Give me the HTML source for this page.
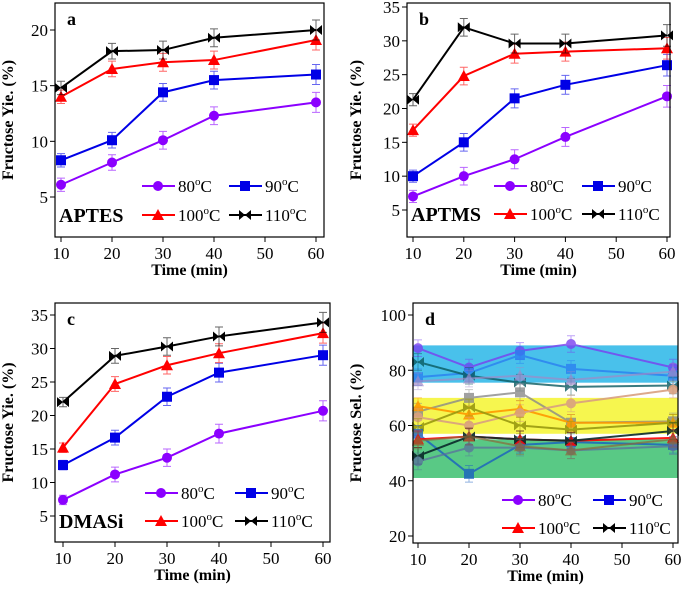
<!DOCTYPE html>
<html><head><meta charset="utf-8"><style>
body{margin:0;background:#fff}
svg{display:block;font-family:"Liberation Serif",serif}
</style></head><body>
<svg id="fig" width="685" height="595" viewBox="0 0 685 595" xmlns="http://www.w3.org/2000/svg"></svg>
<script>
const times=[10,20,30,40,60];
const xTicks=[10,20,30,40,50,60];
// panel a
const a80=[6.1,8.1,10.1,12.3,13.5], a90=[8.3,10.1,14.4,15.5,16.0], a100=[14.0,16.5,17.1,17.3,19.1], a110=[14.8,18.1,18.2,19.3,20.0];
const aErr=[0.6,0.7,0.8,0.8,0.9];
const aTicks=[5,10,15,20];
// panel b
const b80=[7.0,10.0,12.5,15.8,21.8], b90=[10.0,15.0,21.5,23.5,26.4], b100=[16.8,24.8,28.1,28.4,28.9], b110=[21.3,32.0,29.6,29.6,30.8];
const bErr=[0.9,1.3,1.4,1.4,1.6];
const bTicks=[5,10,15,20,25,30,35];
// panel c
const c80=[7.4,11.2,13.7,17.3,20.7], c90=[12.6,16.7,22.8,26.4,29.0], c100=[15.2,24.7,27.5,29.3,32.3], c110=[22.0,28.9,30.3,31.8,33.9];
const cErr=[0.7,1.1,1.3,1.4,1.5];
const cTicks=[5,10,15,20,25,30,35];
// panel d
const d80=[88,81,87,89.5,81], d90=[77.5,79,85.5,80.5,78], d110=[83,78,75.5,74,74.5], dLav=[76,77,78,76.5,79.5];
const d90b=[65,70,72,61,61.5], dOrange=[67,64,66,61,61], dTan=[63,60,64.5,68,73], dOlive=[59.5,66.5,60,58.5,61];
const d90c=[57,42.5,53,54,53], d100=[55,56,55,54.5,55.5], d110b=[49,56,55,54.5,58], dGrey=[47,52,52,51,52.5], dBrown=[54.5,56,52.5,51,55];
const dErr=[3,3,3,3,3];
const dTicks=[20,40,60,80,100];
const dBands=[[75.5,89,'#29b6e8'],[57,70,'#f5f530'],[41,55,'#3cbf70']];

const NS="http://www.w3.org/2000/svg";
const svg=document.getElementById('fig');
function el(tag,attrs,parent){const e=document.createElementNS(NS,tag);for(const k in attrs)e.setAttribute(k,attrs[k]);(parent||svg).appendChild(e);return e;}

function marker(g,type,x,y,c){
  let m;
  if(type==='circle')m=el('circle',{cx:x,cy:y,r:5,fill:c},g);
  else if(type==='square')m=el('rect',{x:x-5,y:y-5,width:10,height:10,fill:c},g);
  else if(type==='tri')m=el('polygon',{points:`${x},${y-6} ${x-6},${y+5} ${x+6},${y+5}`,fill:c},g);
  else m=el('polygon',{points:`${x-6},${y-5} ${x},${y} ${x+6},${y-5} ${x+6},${y+5} ${x},${y} ${x-6},${y+5}`,fill:c},g);
  return m;
}

function panel(cfg){
  const g=el('g',{});
  
  
  const sx=v=>cfg.x10+(v-10)*(cfg.x60-cfg.x10)/50;
  const sy=v=>cfg.yA+(v-cfg.vA)*(cfg.yB-cfg.yA)/(cfg.vB-cfg.vA);
  if(cfg.bands)cfg.bands.forEach((b,i)=>{
    const r=el('rect',{x:cfg.L,y:sy(b[1]),width:cfg.R-cfg.L,height:sy(b[0])-sy(b[1]),fill:b[2],opacity:0.85},g);
    
    
  });
  cfg.series.forEach(s=>{
    const sg=el('g',{opacity:s.op||1},g);
    
    
    times.forEach((t,i)=>{
      const x=sx(t),e=cfg.err[i];
      el('path',{d:`M${x},${sy(s.v[i]-e)}V${sy(s.v[i]+e)}M${x-4},${sy(s.v[i]-e)}h8M${x-4},${sy(s.v[i]+e)}h8`,stroke:s.c,'stroke-width':1,opacity:0.6,fill:'none'},sg);
    });
    el('polyline',{points:times.map((t,i)=>sx(t)+','+sy(s.v[i])).join(' '),fill:'none',stroke:s.c,'stroke-width':2},sg);
    times.forEach((t,i)=>{
      const m=marker(sg,s.m,sx(t),sy(s.v[i]),s.c);
      
      
    });
  });
  const fr=el('rect',{x:cfg.L,y:cfg.T,width:cfg.R-cfg.L,height:cfg.B-cfg.T,fill:'none',stroke:'#000','stroke-width':1.2},g);
  
  
  xTicks.forEach(t=>{
    el('line',{x1:sx(t),x2:sx(t),y1:cfg.B,y2:cfg.B+5,stroke:'#000'},g);
    const tx=el('text',{x:sx(t),y:cfg.B+22,'text-anchor':'middle','font-size':17},g);
    tx.textContent=t;
    
    
  });
  cfg.ticks.forEach(t=>{
    el('line',{x1:cfg.L-5,x2:cfg.L,y1:sy(t),y2:sy(t),stroke:'#000'},g);
    const tx=el('text',{x:cfg.L-7,y:sy(t)+6,'text-anchor':'end','font-size':17},g);
    tx.textContent=t;
    
    
  });
  const xt=el('text',{x:(cfg.L+cfg.R)/2,y:cfg.B+38,'text-anchor':'middle','font-size':16,'font-weight':'bold'},g);
  xt.textContent='Time (min)';
  
  
  const cy=(cfg.T+cfg.B)/2;
  const yt=el('text',{x:cfg.yTx,y:cy,'text-anchor':'middle','font-size':16,'font-weight':'bold',transform:`rotate(-90 ${cfg.yTx} ${cy})`},g);
  yt.textContent=cfg.ytitle;
  
  
  const lb=el('text',{x:cfg.L+12,y:cfg.T+22,'font-size':18,'font-weight':'bold'},g);
  lb.textContent=cfg.id;
  
  
  if(cfg.tag){const tg=el('text',{x:cfg.L+4,y:cfg.legY2+7,'font-size':20,'font-weight':'bold'},g);tg.textContent=cfg.tag;
    
    }
  const lg=el('g',{},g);
  
  
  const items=[['80','circle','#8b00ff',cfg.lx1,cfg.legY1],['90','square','#0000e6',cfg.lx2,cfg.legY1],['100','tri','#ff0000',cfg.lx1,cfg.legY2],['110','bow','#000',cfg.lx2,cfg.legY2]];
  items.forEach(it=>{
    const ig=el('g',{},lg);
    
    
    el('line',{x1:it[3],x2:it[3]+33,y1:it[4],y2:it[4],stroke:it[2],'stroke-width':2},ig);
    marker(ig,it[1],it[3]+16,it[4],it[2]);
    const t=el('text',{x:it[3]+36,y:it[4]+6,'font-size':17},ig);
    t.innerHTML=it[0]+'<tspan dy="-7" font-size="11">o</tspan><tspan dy="7">C</tspan>';
  });
}
const ytY='Fructose Yie. (%)';
function std(v80,v90,v100,v110){return [{name:'80C',v:v80,c:'#8b00ff',m:'circle'},{name:'90C',v:v90,c:'#0000e6',m:'square'},{name:'100C',v:v100,c:'#ff0000',m:'tri'},{name:'110C',v:v110,c:'#000',m:'bow'}];}
panel({id:'a',L:55,R:324,T:3,B:237,x10:61,x60:316,yA:30,vA:20,yB:197,vB:5,ticks:aTicks,err:aErr,ytitle:ytY,yTx:13,tag:'APTES',series:std(a80,a90,a100,a110),lx1:142,lx2:229,legY1:186,legY2:215});
panel({id:'b',L:407,R:670,T:3,B:237,x10:413,x60:667,yA:7,vA:35,yB:210,vB:5,ticks:bTicks,err:bErr,ytitle:ytY,yTx:361,tag:'APTMS',series:std(b80,b90,b100,b110),lx1:494,lx2:582,legY1:186,legY2:214});
panel({id:'c',L:55,R:330,T:303,B:542,x10:63,x60:323,yA:315,vA:35,yB:516,vB:5,ticks:cTicks,err:cErr,ytitle:ytY,yTx:13,tag:'DMASi',series:std(c80,c90,c100,c110),lx1:145,lx2:235,legY1:493,legY2:521});
panel({id:'d',L:413,R:678,T:303,B:543,x10:418,x60:673,yA:315,vA:100,yB:536,vB:20,ticks:dTicks,err:dErr,ytitle:'Fructose Sel. (%)',yTx:361,bands:dBands,series:[
 {name:'80C-a',v:d80,c:'#7a3ff0',m:'circle',op:0.8},{name:'90C-a',v:d90,c:'#2a7ff0',m:'square',op:0.8},{name:'110C-a',v:d110,c:'#0a5a60',m:'bow',op:0.8},{name:'lavender',v:dLav,c:'#a08ac8',m:'tri',op:0.7},
 {name:'90C-b',v:d90b,c:'#8a8a8a',m:'square',op:0.8},{name:'orange',v:dOrange,c:'#ff9900',m:'tri',op:0.9},{name:'tan',v:dTan,c:'#d9a080',m:'circle',op:0.9},{name:'olive',v:dOlive,c:'#9a9a10',m:'bow',op:0.9},
 {name:'90C-c',v:d90c,c:'#1a60c0',m:'square',op:0.8},{name:'100C',v:d100,c:'#ff0000',m:'tri',op:0.9},{name:'110C-b',v:d110b,c:'#0a2a2a',m:'bow',op:0.9},{name:'grey',v:dGrey,c:'#5a6aa0',m:'circle',op:0.7},{name:'brown',v:dBrown,c:'#8a6a3a',m:'tri',op:0.7}],
 lx1:502,lx2:593,legY1:500,legY2:528});
</script>
</body></html>
